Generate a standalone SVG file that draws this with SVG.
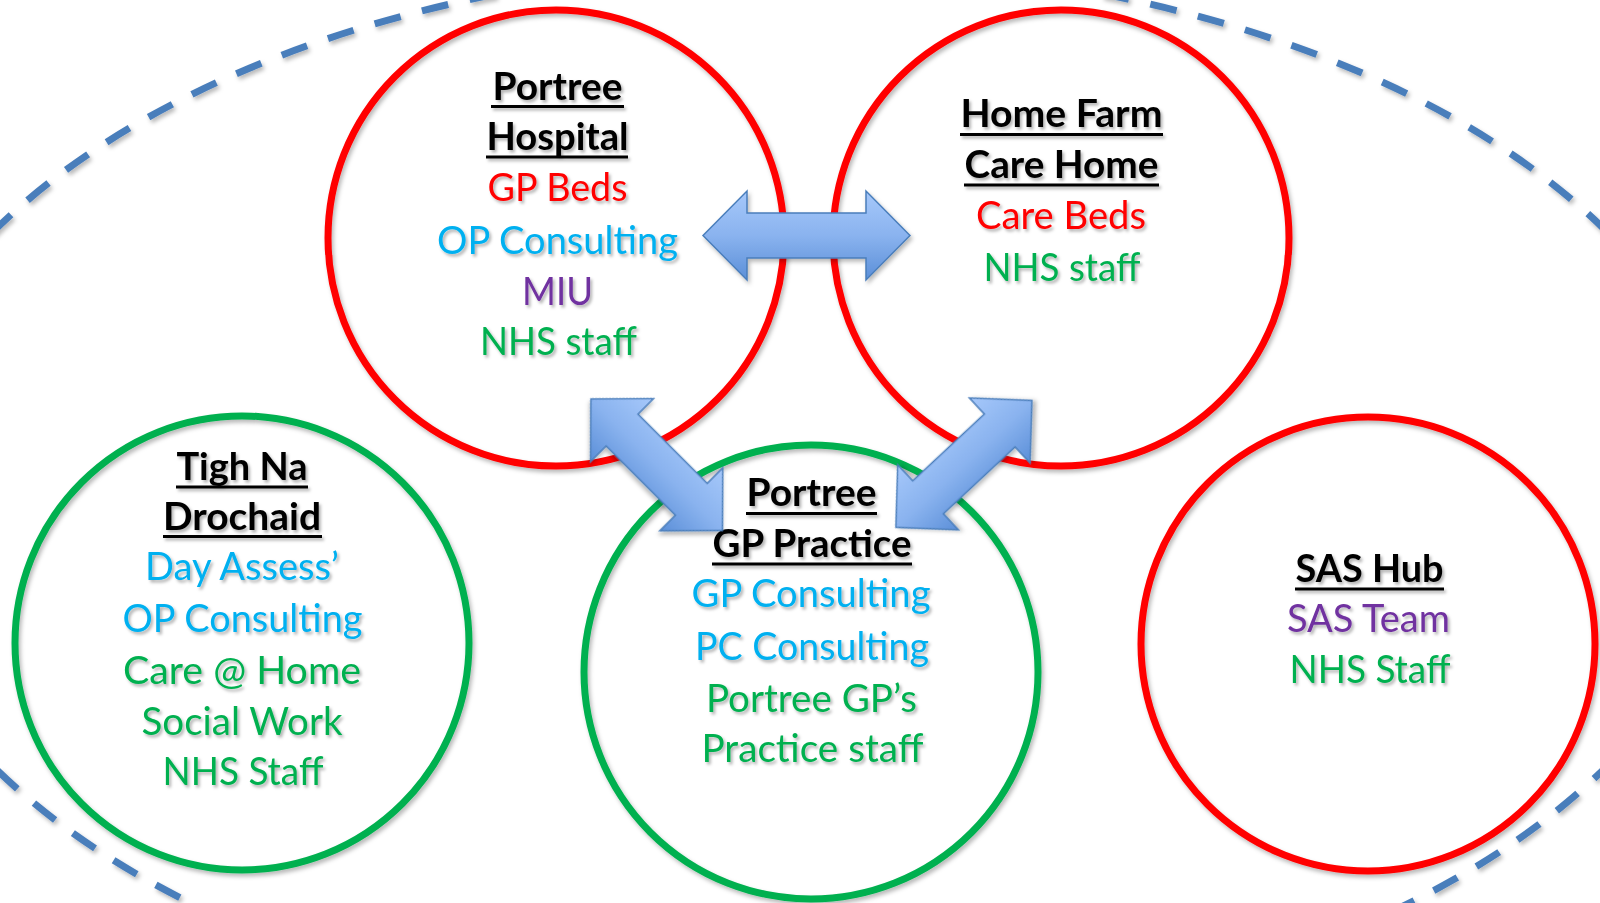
<svg xmlns="http://www.w3.org/2000/svg" width="1600" height="903" viewBox="0 0 1600 903">
  <defs>
    <linearGradient id="arrowFill" x1="0" y1="0" x2="0" y2="1">
      <stop offset="0" stop-color="#a6c8fa"/>
      <stop offset="0.5" stop-color="#8ab3ef"/>
      <stop offset="1" stop-color="#5b8fd8"/>
    </linearGradient>
    <filter id="softShadow" x="-10%" y="-10%" width="120%" height="120%">
      <feDropShadow dx="2" dy="3" stdDeviation="2" flood-color="#000" flood-opacity="0.28"/>
    </filter>
    <filter id="textShadow" x="-10%" y="-20%" width="120%" height="140%">
      <feDropShadow dx="2" dy="2.5" stdDeviation="1.6" flood-color="#000" flood-opacity="0.3"/>
    </filter>
    <!-- double-headed block arrow, centred on its own origin, length set per use -->
    <path id="dblArrow207" d="M -103.5 0 L -59.5 -44.5 L -59.5 -22.5 L 59.5 -22.5 L 59.5 -44.5 L 103.5 0 L 59.5 44.5 L 59.5 22.5 L -59.5 22.5 L -59.5 44.5 Z"/>
    <path id="dblArrow186" d="M -93 0 L -49 -44.5 L -49 -22.5 L 49 -22.5 L 49 -44.5 L 93 0 L 49 44.5 L 49 22.5 L -49 22.5 L -49 44.5 Z"/>
  </defs>
  <style>
    .ring { fill: none; stroke-width: 7; filter: url(#softShadow); }
    .red { stroke: #ff0000; }
    .green { stroke: #00b050; }
    .boundary { fill: none; stroke: #4a7ebb; stroke-width: 7; stroke-dasharray: 27 22; filter: url(#softShadow); }
    .arrow { fill: url(#arrowFill); stroke: #4a7ebb; stroke-width: 1.5; filter: url(#softShadow); }
    .txt { font-family: Lato, "Open Sans", "Liberation Sans", sans-serif; font-size: 38px; text-anchor: middle; filter: url(#textShadow); }
    .head { font-weight: bold; fill: #000; }
    .ul { stroke: #000; stroke-width: 3; }
    .cRed { fill: #ff0000; }
    .cBlue { fill: #00b0f0; }
    .cPurple { fill: #7030a0; }
    .cGreen { fill: #00b050; }
  </style>

  <rect width="1600" height="903" fill="#ffffff"/>

  <!-- dashed outer boundary -->
  <ellipse id="boundary" class="boundary" cx="800" cy="499" rx="932" ry="534"/>

  <!-- Portree Hospital -->
  <g id="portree-hospital">
    <circle class="ring red" cx="556" cy="238" r="228"/>
    <g class="txt">
      <text class="head" x="557.5" y="100" textLength="130" lengthAdjust="spacingAndGlyphs">Portree</text>
      <line class="ul" x1="491" y1="106.5" x2="624" y2="106.5"/>
      <text class="head" x="557.5" y="150" textLength="142" lengthAdjust="spacingAndGlyphs">Hospital</text>
      <line class="ul" x1="486" y1="157" x2="628" y2="157"/>
      <text class="cRed" x="557.5" y="200.5" textLength="140" lengthAdjust="spacingAndGlyphs">GP Beds</text>
      <text class="cBlue" x="557.5" y="254" textLength="241" lengthAdjust="spacingAndGlyphs">OP Consulting</text>
      <text class="cPurple" x="557.5" y="305" textLength="71" lengthAdjust="spacingAndGlyphs">MIU</text>
      <text class="cGreen" x="558.5" y="355" textLength="157" lengthAdjust="spacingAndGlyphs">NHS staff</text>
    </g>
  </g>

  <!-- Home Farm Care Home -->
  <g id="home-farm-care-home">
    <circle class="ring red" cx="1061" cy="238" r="228"/>
    <g class="txt">
      <text class="head" x="1061.5" y="127" textLength="202" lengthAdjust="spacingAndGlyphs">Home Farm</text>
      <line class="ul" x1="960" y1="134.5" x2="1163" y2="134.5"/>
      <text class="head" x="1061.5" y="178" textLength="194" lengthAdjust="spacingAndGlyphs">Care Home</text>
      <line class="ul" x1="964" y1="185" x2="1159" y2="185"/>
      <text class="cRed" x="1061" y="228.5" textLength="170" lengthAdjust="spacingAndGlyphs">Care Beds</text>
      <text class="cGreen" x="1062" y="281" textLength="157" lengthAdjust="spacingAndGlyphs">NHS staff</text>
    </g>
  </g>

  <!-- Tigh Na Drochaid -->
  <g id="tigh-na-drochaid">
    <circle class="ring green" cx="242" cy="643" r="227"/>
    <g class="txt">
      <text class="head" x="242" y="480" textLength="131" lengthAdjust="spacingAndGlyphs">Tigh Na</text>
      <line class="ul" x1="176" y1="487" x2="308" y2="487"/>
      <text class="head" x="242" y="530" textLength="158" lengthAdjust="spacingAndGlyphs">Drochaid</text>
      <line class="ul" x1="163" y1="536.5" x2="322" y2="536.5"/>
      <text class="cBlue" x="242" y="580" textLength="194" lengthAdjust="spacingAndGlyphs">Day Assess’</text>
      <text class="cBlue" x="242.5" y="631.5" textLength="240" lengthAdjust="spacingAndGlyphs">OP Consulting</text>
      <text class="cGreen" x="242" y="683.5" textLength="238" lengthAdjust="spacingAndGlyphs">Care @ Home</text>
      <text class="cGreen" x="242" y="735" textLength="201" lengthAdjust="spacingAndGlyphs">Social Work</text>
      <text class="cGreen" x="243" y="785" textLength="161" lengthAdjust="spacingAndGlyphs">NHS Staff</text>
    </g>
  </g>

  <!-- Portree GP Practice -->
  <g id="portree-gp-practice">
    <circle class="ring green" cx="811" cy="672" r="227"/>
    <g class="txt">
      <text class="head" x="811.5" y="506" textLength="130" lengthAdjust="spacingAndGlyphs">Portree</text>
      <line class="ul" x1="746" y1="513.5" x2="877" y2="513.5"/>
      <text class="head" x="812" y="556.5" textLength="199" lengthAdjust="spacingAndGlyphs">GP Practice</text>
      <line class="ul" x1="712" y1="564" x2="912" y2="564"/>
      <text class="cBlue" x="811" y="606.5" textLength="239" lengthAdjust="spacingAndGlyphs">GP Consulting</text>
      <text class="cBlue" x="812" y="660" textLength="234" lengthAdjust="spacingAndGlyphs">PC Consulting</text>
      <text class="cGreen" x="811.5" y="711.5" textLength="211" lengthAdjust="spacingAndGlyphs">Portree GP’s</text>
      <text class="cGreen" x="812.5" y="761.5" textLength="222" lengthAdjust="spacingAndGlyphs">Practice staff</text>
    </g>
  </g>

  <!-- SAS Hub -->
  <g id="sas-hub">
    <circle class="ring red" cx="1368" cy="644" r="227"/>
    <g class="txt">
      <text class="head" x="1369.5" y="581.5" textLength="148" lengthAdjust="spacingAndGlyphs">SAS Hub</text>
      <line class="ul" x1="1295" y1="589" x2="1444" y2="589"/>
      <text class="cPurple" x="1368.5" y="631.5" textLength="163" lengthAdjust="spacingAndGlyphs">SAS Team</text>
      <text class="cGreen" x="1370" y="682.5" textLength="161" lengthAdjust="spacingAndGlyphs">NHS Staff</text>
    </g>
  </g>

  <!-- two-way links between sites -->
  <g id="connectors">
    <use class="arrow" href="#dblArrow207" transform="translate(806.5 235.5)"/>
    <use class="arrow" href="#dblArrow186" transform="translate(656.7 464.7) rotate(45)"/>
    <use class="arrow" href="#dblArrow186" transform="translate(963.9 463.9) rotate(-43)"/>
  </g>
</svg>
